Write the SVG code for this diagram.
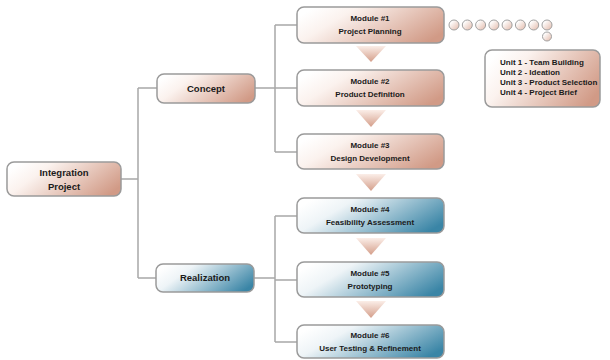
<svg xmlns="http://www.w3.org/2000/svg" width="610" height="360" viewBox="0 0 610 360">
<defs>
<linearGradient id="sal" x1="0" y1="0.3" x2="1" y2="0.7">
<stop offset="0" stop-color="#ffffff"/>
<stop offset="0.25" stop-color="#fbf2ee"/>
<stop offset="1" stop-color="#d19a86"/>
</linearGradient>
<linearGradient id="blu" x1="0" y1="0.3" x2="1" y2="0.7">
<stop offset="0" stop-color="#ffffff"/>
<stop offset="0.25" stop-color="#eef4f7"/>
<stop offset="1" stop-color="#3a85a6"/>
</linearGradient>
<linearGradient id="tri" x1="0" y1="0" x2="0" y2="1">
<stop offset="0" stop-color="#fbeee8"/>
<stop offset="1" stop-color="#d49e8a"/>
</linearGradient>
<linearGradient id="dot" x1="0" y1="0" x2="1" y2="1">
<stop offset="0.2" stop-color="#ffffff"/>
<stop offset="1" stop-color="#e2b8a8"/>
</linearGradient>
</defs>
<style>
.box{stroke:#9a9a9a;stroke-width:1.5}
.s{fill:url(#sal)}
.b{fill:url(#blu)}
.ln{stroke:#a8a8a8;stroke-width:1.5;fill:none}
.t{font-family:"Liberation Sans",Arial,sans-serif;font-weight:bold;fill:#1a1a1a;text-anchor:middle}
.m{font-size:8px}
.l{font-size:9.5px}
.u{font-family:"Liberation Sans",Arial,sans-serif;font-weight:bold;fill:#1a1a1a;font-size:8px}
.tr{fill:url(#tri)}
.d{fill:url(#dot);stroke:#a0a0a0;stroke-width:1}
</style>
<g id="connectors">
<path class="ln" d="M121 179 H138 M138 88 V278 M138 88 H157 M138 278 H156"/>
<path class="ln" d="M255 88 H275 M275 25 V152 M275 25 H297 M275 88 H297 M275 152 H297"/>
<path class="ln" d="M254 278 H275 M275 216 V342 M275 216 H297 M275 280 H297 M275 342 H297"/>
</g>
<g id="arrows">
<polygon class="tr" points="356,46 386,46 371,62"/>
<polygon class="tr" points="356,110 386,110 371,127"/>
<polygon class="tr" points="356,174 386,174 371,191"/>
<polygon class="tr" points="356,238 386,238 371,255"/>
<polygon class="tr" points="356,301 386,301 371,318"/>
</g>
<g id="integration">
<rect class="box s" x="7" y="162" width="114" height="34" rx="7"/>
<text class="t l" x="64" y="176">Integration</text>
<text class="t l" x="64" y="190">Project</text>
</g>
<g id="concept">
<rect class="box s" x="157" y="74" width="98" height="29" rx="7"/>
<text class="t l" x="206" y="92">Concept</text>
</g>
<g id="realization">
<rect class="box b" x="156" y="264" width="98" height="28" rx="7"/>
<text class="t l" x="205" y="281">Realization</text>
</g>
<g id="module1">
<rect class="box s" x="297" y="7" width="147" height="36" rx="7"/>
<text class="t m" x="370" y="21">Module #1</text>
<text class="t m" x="370" y="34">Project Planning</text>
</g>
<g id="module2">
<rect class="box s" x="297" y="70" width="147" height="36" rx="7"/>
<text class="t m" x="370" y="84">Module #2</text>
<text class="t m" x="370" y="97">Product Definition</text>
</g>
<g id="module3">
<rect class="box s" x="297" y="134" width="147" height="35" rx="7"/>
<text class="t m" x="370" y="148">Module #3</text>
<text class="t m" x="370" y="161">Design Development</text>
</g>
<g id="module4">
<rect class="box b" x="297" y="198" width="147" height="35" rx="7"/>
<text class="t m" x="370" y="212">Module #4</text>
<text class="t m" x="370" y="225">Feasibility Assessment</text>
</g>
<g id="module5">
<rect class="box b" x="297" y="262" width="147" height="35" rx="7"/>
<text class="t m" x="370" y="276">Module #5</text>
<text class="t m" x="370" y="289">Prototyping</text>
</g>
<g id="module6">
<rect class="box b" x="297" y="325" width="147" height="33" rx="7"/>
<text class="t m" x="370" y="338">Module #6</text>
<text class="t m" x="370" y="351">User Testing &amp; Refinement</text>
</g>
<g id="dots">
<circle class="d" cx="454" cy="25" r="5"/>
<circle class="d" cx="467.3" cy="25" r="5"/>
<circle class="d" cx="480.6" cy="25" r="5"/>
<circle class="d" cx="493.9" cy="25" r="5"/>
<circle class="d" cx="507.1" cy="25" r="5"/>
<circle class="d" cx="520.4" cy="25" r="5"/>
<circle class="d" cx="533.7" cy="25" r="5"/>
<circle class="d" cx="547" cy="25" r="5"/>
<circle class="d" cx="547" cy="36.5" r="4.5"/>
</g>
<g id="units">
<rect class="box s" x="485" y="50" width="115" height="57" rx="7"/>
<text class="u" x="500" y="65">Unit 1 - Team Building</text>
<text class="u" x="500" y="75">Unit 2 - Ideation</text>
<text class="u" x="500" y="85">Unit 3 - Product Selection</text>
<text class="u" x="500" y="95">Unit 4 - Project Brief</text>
</g>
</svg>
